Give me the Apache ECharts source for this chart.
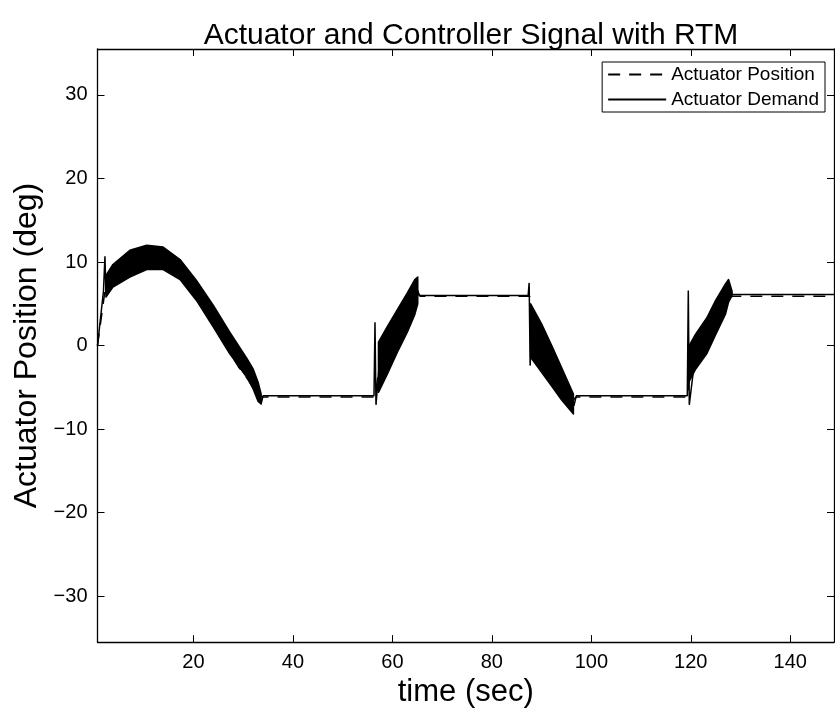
<!DOCTYPE html>
<html>
<head>
<meta charset="utf-8">
<script src="https://cdn.jsdelivr.net/npm/echarts@6/dist/echarts.min.js"></script>
<style>html,body{margin:0;padding:0;background:#fff;}#c{width:835px;height:713px;}</style>
</head>
<body>
<div id="c"></div>
<script>
// ---- data ----
const xTicks = [20, 40, 60, 80, 100, 120, 140];
const yTicks = [-30, -20, -10, 0, 10, 20, 30];
const yTickLabels = ['\u221230', '\u221220', '\u221210', '0', '10', '20', '30'];

// Actuator Demand: centre trace with spikes (t, deg)
const demandT = [0.7, 1.9, 2.2, 2.4, 4, 7, 10.5, 11.5, 14, 17, 20, 23, 26, 29, 31, 32, 33, 33.6, 34, 56.3, 56.5, 56.7, 57.3, 59, 61, 63, 64.5, 65.1, 65.4, 87.3, 87.5, 87.7, 88, 90, 92, 94, 96, 96.5, 97, 119.3, 119.5, 119.7, 121, 123, 125, 127, 127.8, 128.3, 149];
const demandV = [0.0, 6.5, 10.7, 6.2, 8.3, 9.8, 10.6, 10.8, 10.5, 9.2, 6.8, 3.6, 0.6, -2.4, -4.0, -4.8, -5.8, -7.0, -6.0, -6.0, 2.8, -7.1, -2.7, -0.7, 1.6, 3.8, 5.7, 6.6, 6.0, 6.0, 7.5, -2.4, 1.8, -0.3, -2.5, -4.6, -6.7, -7.2, -6.0, -6.0, 6.6, -7.1, -0.7, 1.0, 3.2, 5.6, 6.7, 6.1, 6.1];

// Actuator Position (dashed): follows the band centre, sits slightly off the flats
const positionT = [0.7, 2.3, 4, 7, 10.5, 14, 17, 20, 23, 26, 29, 31, 33, 34, 56.5, 57.3, 59, 61, 63, 65, 65.6, 87.6, 88, 90, 92, 94, 96, 97, 119.4, 119.8, 121, 123, 125, 127, 128.4, 149];
const positionV = [0.0, 7.0, 8.2, 9.7, 10.5, 10.4, 9.1, 6.7, 3.5, 0.5, -2.5, -4.1, -6.0, -6.15, -6.15, -2.8, -0.8, 1.6, 3.7, 6.4, 5.9, 5.9, 1.5, -0.3, -2.5, -4.6, -6.7, -6.15, -6.15, -2.3, -0.8, 1.0, 3.2, 5.6, 5.9, 5.9];

// Oscillation envelopes of the demand signal (lower / upper, deg)
const band1T  = [2.4, 3.8, 7.2, 10.6, 13.9, 17.3, 20.6, 24.0, 27.3, 30.7, 32.0, 33.0, 33.6];
const band1Lo = [5.8, 7.0, 8.2, 9.1, 9.1, 7.9, 5.4, 2.2, -1.0, -3.7, -5.2, -6.7, -7.0];
const band1Hi = [8.4, 9.7, 11.4, 12.0, 11.8, 10.3, 7.8, 4.8, 1.6, -1.5, -2.8, -4.4, -5.8];
const band2T  = [57.2, 59, 61, 63, 64.5, 65.1];
const band2Lo = [-5.6, -3.4, -0.8, 1.6, 3.7, 5.0];
const band2Hi = [0.4, 2.3, 4.3, 6.3, 7.9, 8.2];
const band3T  = [87.8, 90, 92.2, 94, 96.4];
const band3Lo = [-1.4, -3.2, -5.0, -6.5, -8.2];
const band3Hi = [5.0, 2.6, -0.2, -2.6, -5.8];
const band4T  = [119.5, 121, 123.2, 125, 127, 127.6, 128.3];
const band4Lo = [-4.5, -2.8, -1.0, 1.3, 3.8, 5.2, 6.0];
const band4Hi = [-0.2, 1.4, 3.3, 5.4, 7.4, 7.9, 6.5];

// ---- chart ----
const zip = (a, b) => a.map((v, i) => [v, b[i]]);
const bands = [
  {t: band1T, lo: band1Lo, hi: band1Hi},
  {t: band2T, lo: band2Lo, hi: band2Hi},
  {t: band3T, lo: band3Lo, hi: band3Hi},
  {t: band4T, lo: band4Lo, hi: band4Hi}
];
const FONT = '"Liberation Sans", Arial, Helvetica, sans-serif';
const XMIN = 0.7, XMAX = 148.8, YMIN = -35.5, YMAX = 35.5;

const chart = echarts.init(document.getElementById('c'), null, {renderer: 'canvas'});
const axisCommon = {
  axisLine: {show: true, onZero: false, lineStyle: {color: '#000', width: 1.3}},
  axisTick: {show: true, inside: true, length: 7, lineStyle: {color: '#000', width: 1}},
  splitLine: {show: false}
};
chart.setOption({
  animation: false,
  backgroundColor: '#fff',
  title: {
    text: 'Actuator and Controller Signal with RTM',
    left: 466, top: 16, textAlign: 'center',
    textStyle: {fontFamily: FONT, fontSize: 30, fontWeight: 'normal', color: '#000'}
  },
  legend: {
    orient: 'vertical', right: 10, top: 62,
    itemWidth: 58, itemHeight: 14, itemGap: 6,
    padding: [3, 6, 3, 5],
    borderColor: '#000', borderWidth: 1, borderRadius: 0, backgroundColor: '#fff',
    itemStyle: {opacity: 0},
    textStyle: {fontFamily: FONT, fontSize: 19, color: '#000'},
    data: ['Actuator Position', 'Actuator Demand']
  },
  grid: {left: 97.5, right: 1, top: 49, bottom: 67, containLabel: false},
  xAxis: [
    Object.assign({
      type: 'value', min: XMIN, max: XMAX, position: 'bottom',
      name: 'time (sec)', nameLocation: 'middle', nameGap: 34,
      nameTextStyle: {fontFamily: FONT, fontSize: 31, color: '#000'},
      axisLabel: {customValues: xTicks, fontFamily: FONT, fontSize: 20, color: '#000', margin: 10},
    }, axisCommon, {axisTick: Object.assign({}, axisCommon.axisTick, {customValues: xTicks})}),
    Object.assign({
      type: 'value', min: XMIN, max: XMAX, position: 'top',
      axisLabel: {show: false}
    }, axisCommon, {axisTick: Object.assign({}, axisCommon.axisTick, {customValues: xTicks})})
  ],
  yAxis: [
    Object.assign({
      type: 'value', min: YMIN, max: YMAX, position: 'left',
      name: 'Actuator Position (deg)', nameLocation: 'middle', nameGap: 49,
      nameTextStyle: {fontFamily: FONT, fontSize: 32, color: '#000'},
      axisLabel: {customValues: yTicks, formatter: v => yTickLabels[yTicks.indexOf(v)] || '',
        fontFamily: FONT, fontSize: 20, color: '#000', margin: 10},
    }, axisCommon, {axisTick: Object.assign({}, axisCommon.axisTick, {customValues: yTicks})}),
    Object.assign({
      type: 'value', min: YMIN, max: YMAX, position: 'right',
      axisLabel: {show: false}
    }, axisCommon, {axisTick: Object.assign({}, axisCommon.axisTick, {customValues: yTicks})})
  ],
  series: [
    {
      name: 'Actuator Position', type: 'line', xAxisIndex: 0, yAxisIndex: 0,
      data: zip(positionT, positionV), symbol: 'none', showSymbol: false,
      lineStyle: {color: '#000', width: 1.5, type: [12, 9]}, itemStyle: {color: '#000'}, z: 3
    },
    {
      name: 'Actuator Demand', type: 'line', xAxisIndex: 0, yAxisIndex: 0,
      data: zip(demandT, demandV), symbol: 'none', showSymbol: false,
      lineStyle: {color: '#000', width: 1.5}, itemStyle: {color: '#000'}, z: 4
    },
    {
      name: 'demand oscillation', type: 'custom', xAxisIndex: 0, yAxisIndex: 0,
      data: bands.map((b, i) => [b.t[0], b.lo[0], i]),
      encode: {x: 0, y: 1},
      clip: true, silent: true, z: 4,
      renderItem: function (params, api) {
        const b = bands[api.value(2)];
        const pts = [];
        for (let i = 0; i < b.t.length; i++) pts.push(api.coord([b.t[i], b.hi[i]]));
        for (let i = b.t.length - 1; i >= 0; i--) pts.push(api.coord([b.t[i], b.lo[i]]));
        return {type: 'polygon', shape: {points: pts},
          style: {fill: '#000', stroke: '#000', lineWidth: 1.5, lineJoin: 'round'}};
      }
    }
  ]
});
</script>
</body>
</html>
